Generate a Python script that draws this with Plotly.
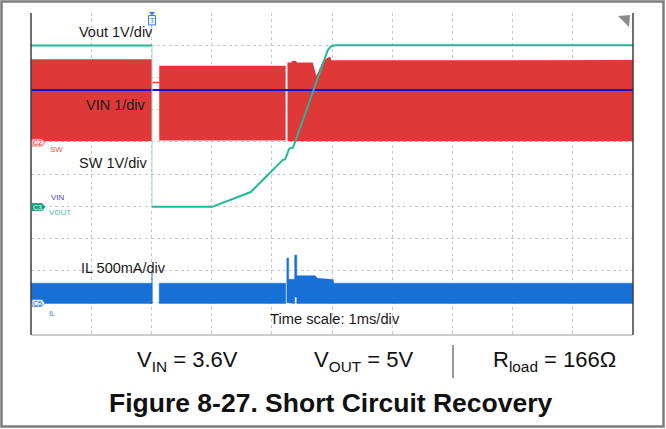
import plotly.graph_objects as go

# ---- Time base: 1 ms/div, 10 divisions; vertical in screen divisions (0..10) ----
W, H = 666, 429

# Vout (teal) trace, time in ms, level in divisions
t_vout = [0, 2.01, 2.01, 3.01, 3.65, 4.18, 4.22, 4.27, 4.29, 4.35, 4.39, 4.93, 4.98, 5.05, 10]
v_vout = [8.99, 8.99, 3.98, 3.98, 4.44, 5.43, 5.45, 5.66, 5.79, 5.82, 6.01, 8.85, 8.96, 9.0, 9.0]

# VIN (dark blue) flat trace
t_vin = [0, 10]
v_vin = [7.61, 7.61]

# SW switching envelope (red), three bursts
sw_t_a = [0, 2.01]
sw_top_a = [8.56, 8.56]
sw_bot_a = [6.02, 6.02]
sw_t_idle = [2.01, 2.13]
sw_idle = [7.84, 7.84]
sw_t_b = [2.13, 4.23]
sw_top_b = [8.36, 8.36]
sw_bot_b = [6.04, 6.04]
sw_t_c = [4.26, 4.32, 4.34, 4.40, 4.42, 4.68, 4.74, 4.85, 4.92, 4.97, 4.99, 10]
sw_top_c = [8.46, 8.46, 8.51, 8.51, 8.46, 8.46, 8.04, 8.51, 8.60, 8.65, 8.53, 8.54]
sw_bot_c = [6.02] * len(sw_t_c)

# IL inductor current envelope (blue)
il_t_a = [0, 2.01]
il_top_a = [1.61, 1.61]
il_bot_a = [0.98, 0.98]
il_t_spike0 = [2.01, 2.01]
il_spike0 = [0.98, 1.93]
il_t_b = [2.13, 4.23]
il_top_b = [1.61, 1.61]
il_bot_b = [0.98, 0.98]
il_t_c = [4.25, 4.28, 4.28, 4.38, 4.38, 4.415, 4.415, 4.72, 4.76, 5.02, 5.03, 10]
il_top_c = [2.39, 2.39, 1.73, 1.73, 2.48, 2.48, 1.84, 1.84, 1.76, 1.72, 1.61, 1.61]
il_bot_c = [1.0, 1.0, 0.98, 0.98, 1.18, 1.18, 0.98, 0.98, 0.98, 0.98, 0.98, 0.98]

# Text
channel_labels = ["Vout 1V/div", "VIN 1/div", "SW 1V/div", "IL 500mA/div"]
time_label = "Time scale: 1ms/div"
cond_labels = ["V<sub>IN</sub> = 3.6V", "V<sub>OUT</sub> = 5V", "R<sub>load</sub> = 166Ω"]
title = "<b>Figure 8-27. Short Circuit Recovery</b>"

RED = "#df3838"
ILBLUE = "#1670d6"
VINBLUE = "#1212c8"
TEAL = "#22b89a"
FONT = "Liberation Sans, Arial, sans-serif"


def px(x):
    return x / W


def py(y):
    return 1 - y / H


def band(t, top, bot):
    return list(t) + list(t)[::-1] + [t[0]], list(top) + list(bot)[::-1] + [top[0]]


def label(x, y, text, size, color, **kw):
    return dict(x=px(x), y=py(y), text=text, showarrow=False, xref="paper", yref="paper",
                xanchor="center", yanchor="middle", font=dict(size=size, color=color, family=FONT), **kw)


fig = go.Figure()

# SW bursts
for t, top, bot in [(sw_t_a, sw_top_a, sw_bot_a), (sw_t_b, sw_top_b, sw_bot_b), (sw_t_c, sw_top_c, sw_bot_c)]:
    bx, by = band(t, top, bot)
    fig.add_trace(go.Scatter(x=bx, y=by, fill="toself", fillcolor=RED, mode="lines",
                             line=dict(width=0, color=RED), hoverinfo="skip"))
fig.add_trace(go.Scatter(x=sw_t_idle, y=sw_idle, mode="lines", line=dict(width=1.5, color=RED),
                         hoverinfo="skip"))

# IL bursts
for t, top, bot in [(il_t_a, il_top_a, il_bot_a), (il_t_b, il_top_b, il_bot_b), (il_t_c, il_top_c, il_bot_c)]:
    bx, by = band(t, top, bot)
    fig.add_trace(go.Scatter(x=bx, y=by, fill="toself", fillcolor=ILBLUE, mode="lines",
                             line=dict(width=0.5, color=ILBLUE), hoverinfo="skip"))
fig.add_trace(go.Scatter(x=il_t_spike0, y=il_spike0, mode="lines", line=dict(width=1, color=ILBLUE),
                         hoverinfo="skip"))

# VIN
fig.add_trace(go.Scatter(x=t_vin, y=v_vin, mode="lines", line=dict(width=2, color=VINBLUE),
                         hoverinfo="skip"))

# Vout: fast collapse drawn faint, the rest as a solid trace
fig.add_trace(go.Scatter(x=t_vout[1:3], y=v_vout[1:3], mode="lines",
                         line=dict(width=1, color="#9fdccf"), hoverinfo="skip"))
fig.add_trace(go.Scatter(x=t_vout[:2] + [None] + t_vout[2:], y=v_vout[:2] + [None] + v_vout[2:],
                         mode="lines", line=dict(width=2, color=TEAL), hoverinfo="skip"))

axis_common = dict(range=[0, 10], dtick=1, showgrid=True, gridcolor="#c9c9c9", griddash="dot",
                   gridwidth=1, zeroline=False, showticklabels=False, ticks="", showline=False,
                   fixedrange=True)
fig.update_xaxes(domain=[px(31), px(633)], **axis_common)
fig.update_yaxes(domain=[py(335), py(13)], **axis_common)

shapes = []
# outer frame
shapes.append(dict(type="rect", xref="paper", yref="paper", x0=px(1.5), x1=px(663.5), y0=py(426.5), y1=py(1.5),
                   line=dict(color="#7d7d7d", width=2.5)))
# screen borders
shapes.append(dict(type="line", xref="paper", yref="paper", x0=px(31), x1=px(31), y0=py(335), y1=py(13),
                   line=dict(color="#3c3c3c", width=1.5)))
shapes.append(dict(type="line", xref="paper", yref="paper", x0=px(633), x1=px(633), y0=py(335), y1=py(13),
                   line=dict(color="#3c3c3c", width=1.5)))
shapes.append(dict(type="line", xref="paper", yref="paper", x0=px(31), x1=px(633), y0=py(335), y1=py(335),
                   line=dict(color="#9a9a9a", width=1)))
# separator between conditions
shapes.append(dict(type="line", xref="paper", yref="paper", x0=px(453), x1=px(453), y0=py(378), y1=py(345),
                   line=dict(color="#333333", width=1)))


def path(points):
    return "M " + " L ".join(f"{px(x)},{py(y)}" for x, y in points) + " Z"


# trigger marker
shapes.append(dict(type="path", xref="paper", yref="paper", path=path([(149, 12), (155, 12), (152, 15.5)]),
                   fillcolor="#3d7fd6", line=dict(width=0)))
shapes.append(dict(type="rect", xref="paper", yref="paper", x0=px(148.5), x1=px(155.5), y0=py(25), y1=py(15.5),
                   fillcolor="#eef4fc", line=dict(color="#3d7fd6", width=1)))
# top-right corner marker
shapes.append(dict(type="path", xref="paper", yref="paper", path=path([(618, 16), (630, 15), (629, 27)]),
                   fillcolor="#8c8c8c", line=dict(width=0)))
# channel tags
tags = [((32, 139, 45, 146), "#fbe1e1", "#e05050", "C2", "#e04040"),
        ((32, 203.5, 45, 210.5), "#1a9c80", "#1a9c80", "C3", "#ffffff"),
        ((32, 299.5, 45, 306.5), "#dde9f8", "#4a8ad8", "C5", "#3a7ad0")]
annotations = []
for (x0, y0, x1, y1), fc, lc, txt, tc in tags:
    shapes.append(dict(type="path", xref="paper", yref="paper",
                       path=path([(x0, y0), (x1 - 3, y0), (x1, (y0 + y1) / 2), (x1 - 3, y1), (x0, y1)]),
                       fillcolor=fc, line=dict(color=lc, width=0.8)))
    annotations.append(label((x0 + x1) / 2 - 1, (y0 + y1) / 2, txt, 7, tc))

# small channel names on the left
for txt, x, y, c, s in [("SW", 56, 150, "#e05050", 8), ("VIN", 58, 197, "#4a4ac8", 8),
                        ("VOUT", 60, 213, "#3cbf9f", 8), ("IL", 52, 313, "#3a70c8", 7)]:
    annotations.append(label(x, y, txt, s, c))

annotations.append(label(152, 20.5, "T", 7, "#3d7fd6"))

# channel scale labels
for txt, x, y in zip(channel_labels, [116, 116, 112.5, 123.5], [32, 105, 163, 268]):
    annotations.append(label(x, y, txt, 14.5, "#1a1a1a"))
annotations.append(label(335, 319, time_label, 14.7, "#1a1a1a"))

# test conditions
for txt, x in zip(cond_labels, [187, 363, 554]):
    annotations.append(label(x, 361, txt, 22, "#111111"))

annotations.append(label(331, 403, title, 26.5, "#111111"))

fig.update_layout(width=W, height=H, margin=dict(l=0, r=0, t=0, b=0), showlegend=False,
                  plot_bgcolor="white", paper_bgcolor="white", shapes=shapes, annotations=annotations)

fig.write_html("out.html", config={"displayModeBar": False})
